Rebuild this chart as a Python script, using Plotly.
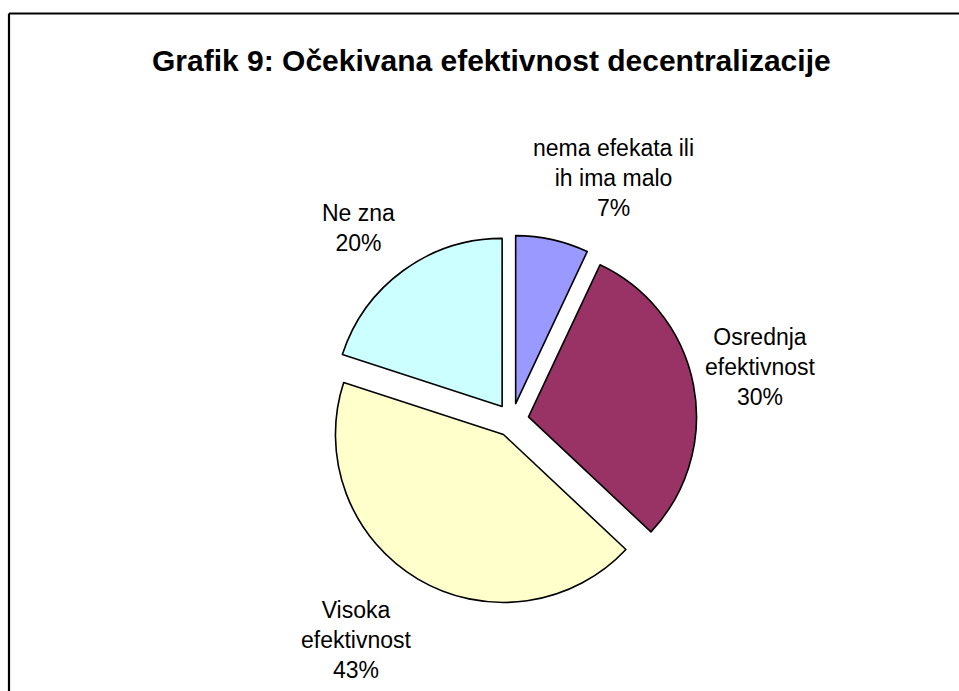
import plotly.graph_objects as go

W, H = 959, 691

categories = ["nema efekata ili<br>ih ima malo", "Osrednja<br>efektivnost", "Visoka<br>efektivnost", "Ne zna"]
values = [7, 30, 43, 20]
colors = ["#9999FF", "#993366", "#FFFFCC", "#CCFFFF"]
title_text = "Grafik 9: Očekivana efektivnost decentralizacije"

# label anchor positions in screen pixels (layout only)
label_pos = [(613, 178), (760, 367), (356, 640), (358, 228)]


def px(x):
    return x / W


def py(y):
    return 1 - y / H


cx, cy, r, pull = 512, 420, 168, 0.1
half = r * (1 + pull)

fig = go.Figure(go.Pie(
    labels=categories,
    values=values,
    marker=dict(colors=colors, line=dict(color="black", width=1.6)),
    sort=False,
    direction="clockwise",
    rotation=0,
    pull=[pull] * len(values),
    textinfo="none",
    hoverinfo="label+percent",
    showlegend=False,
    domain=dict(x=[px(cx - half), px(cx + half)],
                y=[py(cy + half), py(cy - half)]),
))

total = sum(values)
annotations = []
for lab, v, (lx, ly) in zip(categories, values, label_pos):
    annotations.append(dict(
        x=px(lx), y=py(ly), xref="paper", yref="paper",
        text=f"{lab}<br>{round(100 * v / total)}%",
        showarrow=False, xanchor="center", yanchor="middle",
        font=dict(family="Liberation Sans, Arial", size=23, color="black"),
    ))
annotations.append(dict(
    x=px(491), y=py(60), xref="paper", yref="paper",
    text=f"<b>{title_text}</b>", showarrow=False,
    xanchor="center", yanchor="middle",
    font=dict(family="Liberation Sans, Arial", size=30, color="black"),
))

fig.update_layout(
    width=W, height=H,
    margin=dict(l=0, r=0, t=0, b=0),
    paper_bgcolor="white", plot_bgcolor="white",
    annotations=annotations,
    shapes=[
        dict(type="line", xref="paper", yref="paper",
             x0=px(9), x1=1.0, y0=py(13.5), y1=py(13.5),
             line=dict(color="black", width=2.2)),
        dict(type="line", xref="paper", yref="paper",
             x0=px(9), x1=px(9), y0=py(13.5), y1=0.0,
             line=dict(color="black", width=2.2)),
    ],
)

fig.write_html(
    "out.html",
    config={"displayModeBar": False},
    post_script="document.body.style.margin='0px';"
                "document.documentElement.style.overflow='hidden';",
)
